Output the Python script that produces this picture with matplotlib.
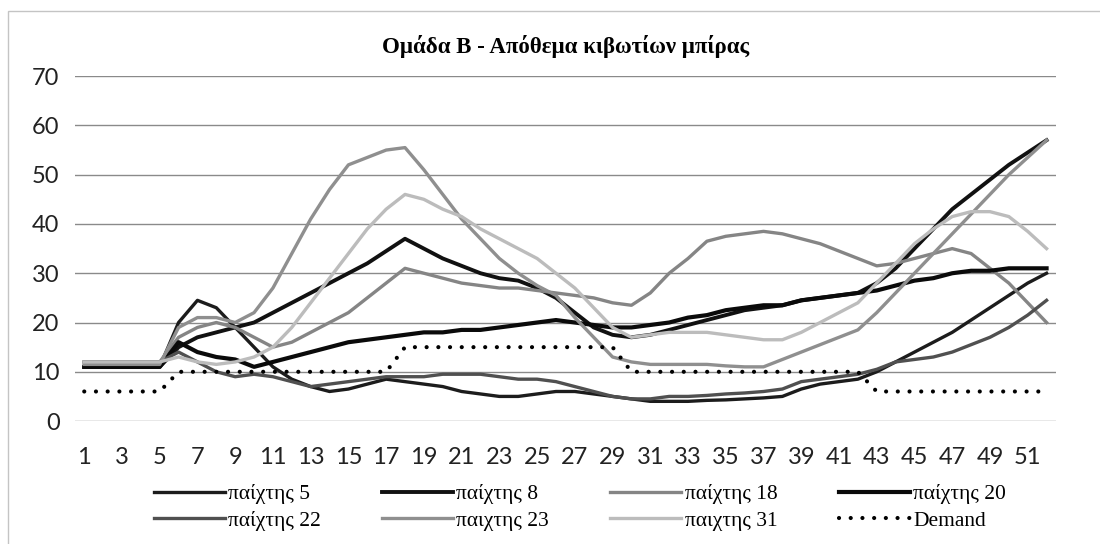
import numpy as np
import matplotlib.pyplot as plt
from matplotlib.patches import Rectangle

# Εβδομάδες 1..52
weeks = np.arange(1, 53)

p5 = [11, 11, 11, 11, 11, 20, 24.5, 23, 19, 15, 11, 8.5, 7, 6, 6.5, 7.5, 8.5, 8, 7.5, 7,
      6, 5.5, 5, 5, 5.5, 6, 6, 5.5, 5, 4.5, 4, 4, 4, 4.2, 4.3, 4.5, 4.7, 5, 6.5, 7.5,
      8, 8.5, 10, 12, 14, 16, 18, 20.5, 23, 25.5, 28, 30]
p8 = [11, 11, 11, 11, 11, 15, 17, 18, 19, 20, 22, 24, 26, 28, 30, 32, 34.5, 37, 35, 33,
      31.5, 30, 29, 28.5, 27, 25, 22, 19, 17.5, 17, 17.5, 18.5, 19.5, 20.5, 21.5, 22.5, 23, 23.5, 24.5, 25,
      25.5, 26, 28, 31, 35, 39, 43, 46, 49, 52, 54.5, 57]
p18 = [12, 12, 12, 12, 12, 17, 19, 20, 19, 17, 15, 16, 18, 20, 22, 25, 28, 31, 30, 29,
       28, 27.5, 27, 27, 26.5, 26, 25.5, 25, 24, 23.5, 26, 30, 33, 36.5, 37.5, 38, 38.5, 38, 37, 36,
       34.5, 33, 31.5, 32, 33, 34, 35, 34, 31, 28, 24, 20]
p20 = [11, 11, 11, 11, 11, 16, 14, 13, 12.5, 11, 12, 13, 14, 15, 16, 16.5, 17, 17.5, 18, 18,
       18.5, 18.5, 19, 19.5, 20, 20.5, 20, 19.5, 19, 19, 19.5, 20, 21, 21.5, 22.5, 23, 23.5, 23.5, 24.5, 25,
       25.5, 26, 26.5, 27.5, 28.5, 29, 30, 30.5, 30.5, 31, 31, 31]
p22 = [12, 12, 12, 12, 12, 14, 12, 10, 9, 9.5, 9, 8, 7, 7.5, 8, 8.5, 9, 9, 9, 9.5,
       9.5, 9.5, 9, 8.5, 8.5, 8, 7, 6, 5, 4.5, 4.5, 5, 5, 5.2, 5.5, 5.7, 6, 6.5, 8, 8.5,
       9, 9.5, 10.5, 12, 12.5, 13, 14, 15.5, 17, 19, 21.5, 24.5]
p23 = [11.5, 11.5, 11.5, 11.5, 11.5, 19, 21, 21, 20, 22, 27, 34, 41, 47, 52, 53.5, 55, 55.5, 51, 46,
       41, 37, 33, 30, 27.5, 25.5, 21, 17, 13, 12, 11.5, 11.5, 11.5, 11.5, 11.2, 11, 11, 12.5, 14, 15.5,
       17, 18.5, 22, 26, 30, 34, 38, 42, 46, 50, 53.5, 57]
p31 = [12, 12, 12, 12, 12, 13, 12, 11.5, 12, 13, 15, 19, 24, 29, 34, 39, 43, 46, 45, 43,
       41.5, 39, 37, 35, 33, 30, 27, 23, 19, 17, 17.5, 18, 18, 18, 17.5, 17, 16.5, 16.5, 18, 20,
       22, 24, 28, 32, 36, 39, 41.5, 42.5, 42.5, 41.5, 38.5, 35]
demand = [6] * 5 + [10] * 12 + [15] * 12 + [10] * 13 + [6] * 10

plt.rcParams['font.family'] = ['Lato', 'DejaVu Sans']

fig = plt.figure(figsize=(11, 5.44), dpi=100)
ax = fig.add_axes([0.068, 0.226, 0.892, 0.634])

lines = []
lines += ax.plot(weeks, p5, color='#1c1c1c', lw=2.4, label='παίχτης 5')
lines += ax.plot(weeks, p8, color='#111111', lw=2.8, label='παίχτης 8')
lines += ax.plot(weeks, p18, color='#858585', lw=2.4, label='παίχτης 18')
lines += ax.plot(weeks, p20, color='#0a0a0a', lw=3.0, label='παίχτης 20')
lines += ax.plot(weeks, p22, color='#505050', lw=2.4, label='παίχτης 22')
lines += ax.plot(weeks, p23, color='#8f8f8f', lw=2.4, label='παιχτης 23')
lines += ax.plot(weeks, p31, color='#bcbcbc', lw=2.4, label='παιχτης 31')
lines += ax.plot(weeks, demand, color='black', lw=3, linestyle=(0, (0.01, 2.8)),
                 dash_capstyle='round', label='Demand')

ax.set_xlim(0.5, 52.5)
ax.set_ylim(0, 70)
ax.set_yticks(range(0, 71, 10))
ax.set_xticks(range(1, 52, 2))
ax.tick_params(length=0, labelsize=17, colors='#222222')
ax.tick_params(axis='x', pad=19)
ax.tick_params(axis='y', pad=11)
ax.grid(axis='y', color='#8a8a8a', lw=1)
ax.set_axisbelow(True)
for s in ax.spines.values():
    s.set_visible(False)

fig.text(0.514, 0.915, 'Ομάδα Β - Απόθεμα κιβωτίων μπίρας', ha='center', va='center',
         fontsize=16.5, fontweight='bold', family='Liberation Serif')

# η σειρά του υπομνήματος κατά γραμμές
order = [0, 4, 1, 5, 2, 6, 3, 7]
fig.legend([lines[i] for i in order], [lines[i].get_label() for i in order],
           loc='center', bbox_to_anchor=(0.527, 0.067), ncol=4, frameon=False,
           prop={'family': 'Liberation Serif', 'size': 15.5}, handlelength=3.3,
           handletextpad=0.15, columnspacing=2.85, labelspacing=0.3)

# πλαίσιο γραφήματος
fig.add_artist(Rectangle((0.007, -0.02), 1.2, 1.0, transform=fig.transFigure,
                         fill=False, edgecolor='#c4c4c4', lw=1))

fig.savefig('out.png', dpi=100)
